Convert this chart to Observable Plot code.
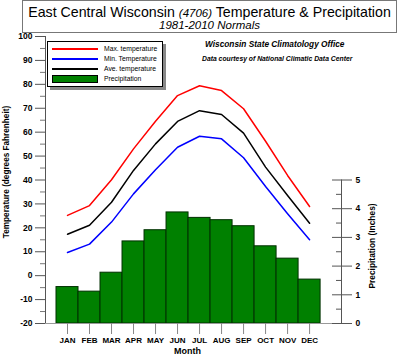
<!DOCTYPE html>
<html><head><meta charset="utf-8">
<script src="https://cdn.jsdelivr.net/npm/d3@7"></script>
<script src="https://cdn.jsdelivr.net/npm/@observablehq/plot@0.6"></script>
<style>
body{margin:0;background:#fff;font-family:"Liberation Sans",Arial,sans-serif;}
#wrap{position:relative;width:400px;height:358px;overflow:hidden;background:#fff;}
#chart{position:absolute;left:0;top:0;}
#title{position:absolute;left:22px;top:0;width:375px;height:33px;border:1px solid #777;box-sizing:border-box;text-align:center;background:#fff;color:#000;}
#t1{font-size:14.2px;line-height:15px;margin-top:4px;white-space:nowrap;}
#t1 i{font-size:11.5px;}
#t2{font-size:11.5px;font-style:italic;line-height:11px;margin-top:-1px;}
.cred{position:absolute;font-weight:bold;font-style:italic;white-space:nowrap;color:#000;}
#legend{position:absolute;left:47px;top:41px;width:116px;height:46px;border:1px solid #000;box-sizing:border-box;background:#fff;box-shadow:3px 3px 0 #888;}
.li{position:absolute;left:4px;width:46px;}
.lt{position:absolute;left:56px;font-size:6.8px;line-height:8px;white-space:nowrap;color:#000;}
</style></head>
<body>
<div id="wrap">
  <div id="chart"></div>
  <div id="title"><div id="t1">East Central Wisconsin <i>(4706)</i> Temperature &amp; Precipitation</div><div id="t2">1981-2010 Normals</div></div>
  <div class="cred" style="left:205px;top:39px;font-size:8.3px;">Wisconsin State Climatology Office</div>
  <div class="cred" style="left:202px;top:55px;font-size:6.8px;">Data courtesy of National Climatic Data Center</div>
  <div id="legend"></div>
</div>
<script>
const months = ["JAN","FEB","MAR","APR","MAY","JUN","JUL","AUG","SEP","OCT","NOV","DEC"];
const maxTemp = [25.2, 29.3, 40.1, 53.0, 64.6, 75.3, 79.4, 77.4, 69.8, 56.2, 41.9, 28.9];
const minTemp = [9.7, 13.2, 22.4, 34.2, 44.3, 53.7, 58.3, 57.2, 49.3, 37.3, 25.9, 15.0];
const avgTemp = [17.3, 21.1, 30.7, 44.0, 55.1, 64.5, 69.0, 67.4, 59.6, 45.4, 33.5, 21.9];
const precip = [1.27, 1.11, 1.77, 2.86, 3.25, 3.87, 3.68, 3.60, 3.39, 2.69, 2.26, 1.53];
const tempTicks = d3.range(-20, 101, 10);
const tempMinorTicks = d3.range(-15, 100, 10);
const precipTicks = [0, 1, 2, 3, 4, 5];
const precipMinorTicks = [0.5, 1.5, 2.5, 3.5, 4.5];

const legendItems = [
  {label: "Max. temperature", color: "#ff0000", type: "line"},
  {label: "Min. Temperature", color: "#0000ff", type: "line"},
  {label: "Ave. temperature", color: "#000000", type: "line"},
  {label: "Precipitation", color: "#008000", type: "box"}
];

const tempDomain = [-20, 100];
const precipMax = 5;            // precip axis 0..5 spans temp -20..40
const precipTop = 40;
const toT = p => tempDomain[0] + p * (precipTop - tempDomain[0]) / precipMax;
const xDomain = [0, 13.45];

const rows = months.map((m, i) => ({m, i: i + 1, max: maxTemp[i], min: minTemp[i], avg: avgTemp[i], p: precip[i]}));

const font = "Liberation Sans, Arial, sans-serif";
const chart = Plot.plot({
  width: 400, height: 358,
  marginLeft: 45, marginRight: 59, marginTop: 36, marginBottom: 35,
  style: {fontFamily: font, fontSize: "8px", color: "#000", background: "transparent", overflow: "visible"},
  x: {domain: xDomain, axis: null, label: null},
  y: {domain: tempDomain, axis: null, label: null},
  marks: [
    Plot.rectY(rows, {x1: d => d.i - 0.5, x2: d => d.i + 0.5, y1: tempDomain[0], y2: d => toT(d.p), fill: "#008000", stroke: "#003000", strokeWidth: 1}),
    Plot.line(rows, {x: "i", y: "max", stroke: "#ff0000", strokeWidth: 1.5}),
    Plot.line(rows, {x: "i", y: "avg", stroke: "#000000", strokeWidth: 1.5}),
    Plot.line(rows, {x: "i", y: "min", stroke: "#0000ff", strokeWidth: 1.5}),
    Plot.frame({anchor: "left", stroke: "#555"}),
    Plot.frame({anchor: "bottom", stroke: "#999"}),
    Plot.ruleX([xDomain[1]], {y1: toT(0), y2: toT(precipMax), stroke: "#555"}),
    Plot.axisY({ticks: tempTicks, tickSize: 10, tickPadding: 3, stroke: "#555", fontWeight: "bold", fontSize: 8.5, label: null, tickFormat: d => d}),
    Plot.axisY({ticks: tempMinorTicks, tickSize: 5, stroke: "#777", label: null, tickFormat: () => ""}),
    Plot.axisY(precipTicks.map(toT), {anchor: "right", tickSize: 10, tickPadding: 4, stroke: "#555", fontWeight: "bold", fontSize: 8.5, label: null, tickFormat: (d, i) => precipTicks[i]}),
    Plot.axisY(precipTicks.map(toT), {anchor: "right", tickSize: -10, stroke: "#555", label: null, tickFormat: () => ""}),
    Plot.axisY(precipMinorTicks.map(toT), {anchor: "right", tickSize: -6, stroke: "#555", label: null, tickFormat: () => ""}),
    Plot.axisX({ticks: d3.range(1, 13), tickSize: 11, tickPadding: 3, stroke: "#888", fontWeight: "bold", fontSize: 8, label: null, tickFormat: d => months[d - 1]}),
    Plot.text(["Month"], {text: d => d, frameAnchor: "bottom", textAnchor: "middle", dx: -6, dy: 30, fontWeight: "bold", fontSize: 9}),
    Plot.text(["Temperature (degrees Fahrenheit)"], {text: d => d, frameAnchor: "left", textAnchor: "middle", lineAnchor: "middle", dx: -39, dy: -8, rotate: -90, fontWeight: "bold", fontSize: 8.2}),
    Plot.text(["Precipitation (Inches)"], {text: d => d, frameAnchor: "right", textAnchor: "middle", lineAnchor: "middle", dx: 31, dy: 66, rotate: -90, fontWeight: "bold", fontSize: 8.4})
  ]
});
document.getElementById("chart").appendChild(chart);

const lg = document.getElementById("legend");
legendItems.forEach((it, k) => {
  const cy = 7 + k * 10;
  const s = document.createElement("div");
  s.className = "li";
  if (it.type === "line") {
    s.style.top = (cy - 1) + "px"; s.style.height = "2px"; s.style.background = it.color;
  } else {
    s.style.top = (cy - 4) + "px"; s.style.height = "8px"; s.style.background = it.color; s.style.border = "1px solid #000"; s.style.boxSizing = "border-box";
  }
  lg.appendChild(s);
  const t = document.createElement("div");
  t.className = "lt"; t.style.top = (cy - 4) + "px"; t.textContent = it.label;
  lg.appendChild(t);
});
</script>
</body></html>
